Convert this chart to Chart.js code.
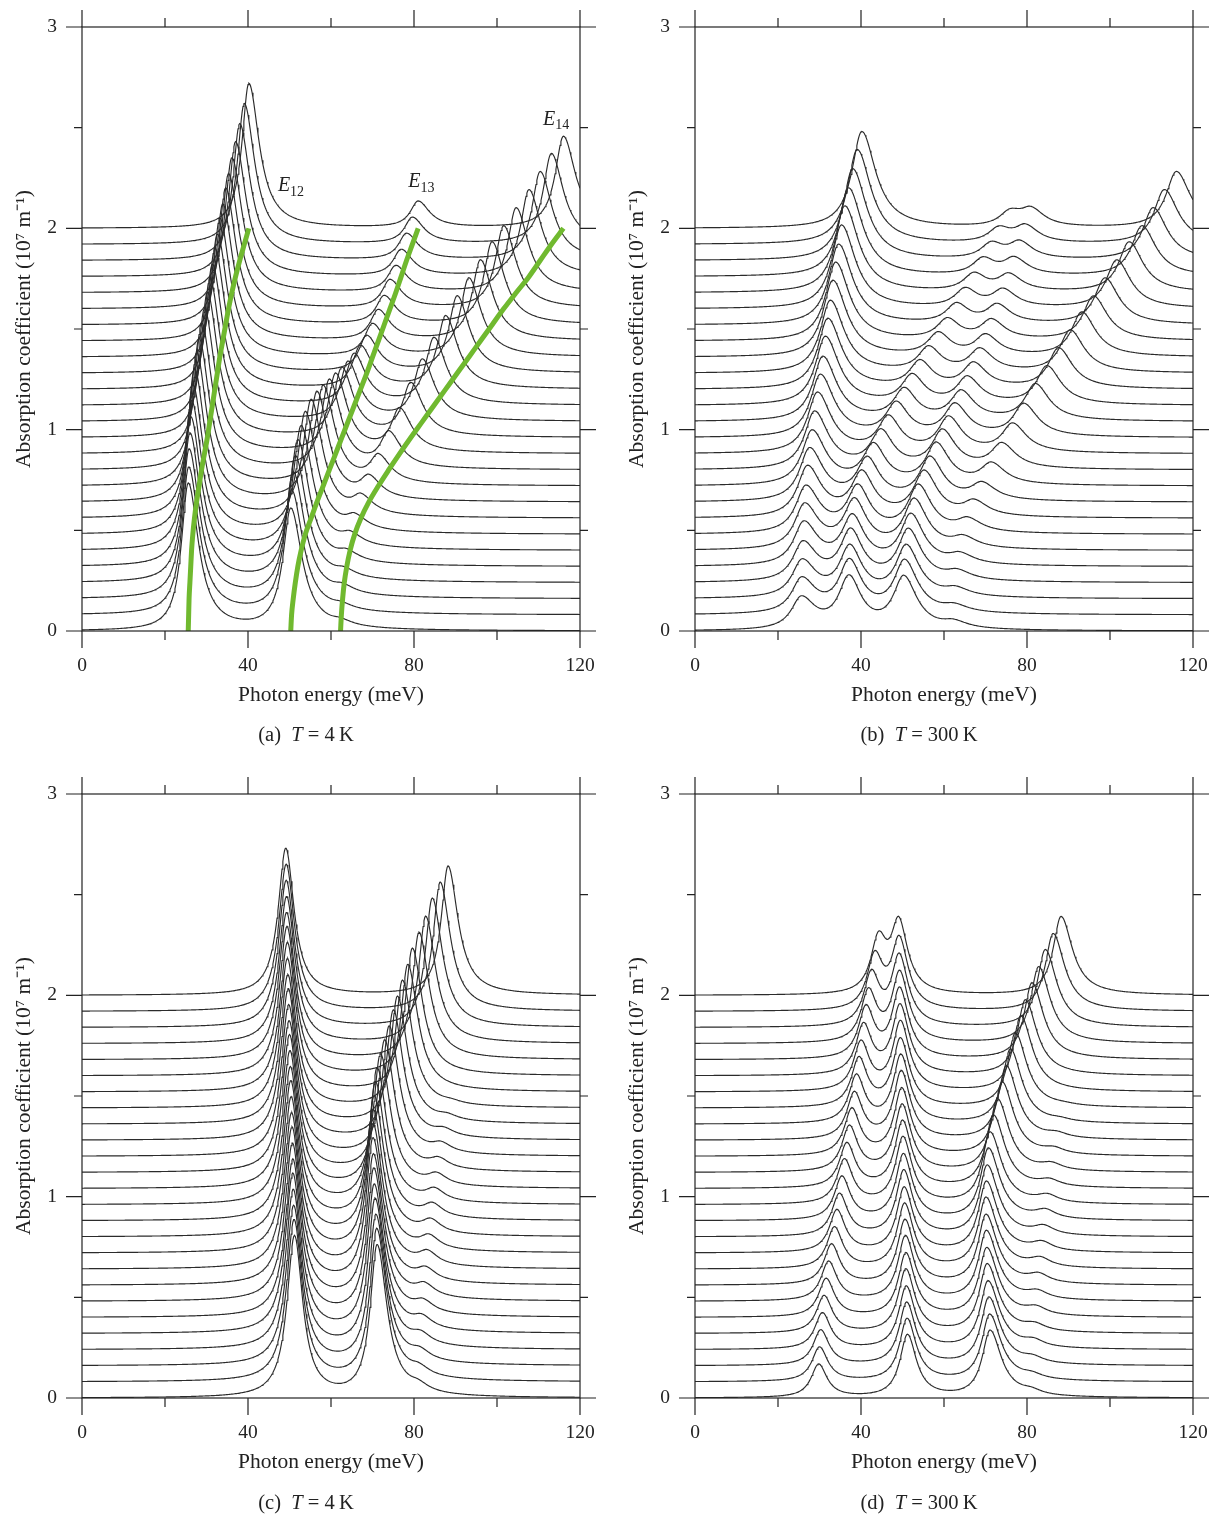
<!DOCTYPE html>
<html>
<head>
<meta charset="utf-8">
<script src="https://cdn.jsdelivr.net/npm/chart.js@4.4.1/dist/chart.umd.min.js"></script>
<style>
  body { margin: 0; background: #fff; }
  #page { position: relative; width: 1219px; height: 1516px; overflow: hidden; }
  canvas { position: absolute; }
  .cap { position: absolute; width: 612px; text-align: center; font-family: "Liberation Serif", serif; font-size: 20.5px; color: #222; }
</style>
</head>
<body>
<div id="page">
  <canvas id="pa" width="609" height="760" style="left:0;top:0"></canvas>
  <canvas id="pb" width="606" height="760" style="left:613px;top:0"></canvas>
  <canvas id="pc" width="609" height="749" style="left:0;top:767px"></canvas>
  <canvas id="pd" width="606" height="749" style="left:613px;top:767px"></canvas>
  <div class="cap" style="left:0;top:723px">(a)&nbsp; <i>T</i> = 4&#8201;K</div>
  <div class="cap" style="left:613px;top:723px">(b)&nbsp; <i>T</i> = 300&#8201;K</div>
  <div class="cap" style="left:0;top:1491px">(c)&nbsp; <i>T</i> = 4&#8201;K</div>
  <div class="cap" style="left:613px;top:1491px">(d)&nbsp; <i>T</i> = 300&#8201;K</div>
</div>
<script>
// baseline offset of each of the 26 stacked spectra
var offsets = [0,0.08,0.16,0.24,0.32,0.40,0.48,0.56,0.64,0.72,0.80,0.88,0.96,1.04,1.12,1.20,1.28,1.36,1.44,1.52,1.60,1.68,1.76,1.84,1.92,2.00];

// peak energies (meV) per spectrum, panels (a) and (b)
var posE12 = [25.6,25.7,25.8,26.0,26.2,26.4,26.7,27.1,27.6,28.2,28.8,29.5,30.2,30.8,31.4,32.0,32.6,33.2,33.9,34.6,35.3,36.1,37.0,38.0,39.1,40.2];
var posE13 = [50.3,50.5,50.9,51.4,52.0,52.8,53.8,55.2,56.6,58.1,59.6,61.1,62.6,64.1,65.6,67.1,68.6,70.0,71.4,72.8,74.2,75.6,76.9,78.2,79.6,81.0];
var posE14 = [62.3,62.5,62.8,63.2,63.8,64.6,65.7,67.2,69.1,71.4,73.9,76.5,79.2,82.0,84.8,87.6,90.4,93.2,96.0,98.8,101.6,104.6,107.7,110.4,113.1,116.0];
var posE24 = [37.1,37.2,37.3,37.5,37.9,38.4,39.2,40.2,41.5,43.0,44.8,46.6,48.5,50.4,52.3,54.2,56.3,58.6,60.8,63.0,65.1,67.2,69.4,71.4,73.2,75.9];

// peak heights, panel (a) T = 4 K
var ampA12 = [0.73,0.73,0.74,0.74,0.74,0.74,0.74,0.74,0.74,0.73,0.73,0.72,0.72,0.71,0.70,0.70,0.69,0.69,0.68,0.68,0.67,0.67,0.67,0.68,0.70,0.72];
var ampA13 = [0.60,0.61,0.62,0.62,0.62,0.61,0.60,0.58,0.54,0.49,0.44,0.39,0.34,0.29,0.25,0.21,0.18,0.16,0.15,0.14,0.14,0.13,0.13,0.13,0.13,0.13];
var ampA14 = [0.02,0.02,0.03,0.03,0.04,0.05,0.06,0.08,0.10,0.13,0.17,0.21,0.26,0.30,0.33,0.36,0.38,0.39,0.40,0.41,0.41,0.42,0.43,0.44,0.45,0.455];

// peak heights, panel (b) T = 300 K
var ampB12 = [0.155,0.17,0.18,0.19,0.21,0.22,0.23,0.25,0.26,0.27,0.285,0.30,0.31,0.32,0.34,0.35,0.36,0.38,0.39,0.40,0.415,0.43,0.44,0.455,0.47,0.48];
var ampB24 = [0.25,0.25,0.24,0.24,0.23,0.23,0.22,0.21,0.20,0.19,0.18,0.17,0.16,0.15,0.14,0.13,0.12,0.11,0.10,0.095,0.09,0.085,0.08,0.075,0.07,0.07];
var ampB13 = [0.255,0.255,0.25,0.25,0.245,0.24,0.23,0.22,0.21,0.20,0.185,0.17,0.155,0.14,0.13,0.12,0.11,0.10,0.095,0.09,0.085,0.08,0.08,0.08,0.08,0.08];
var ampB14 = [0.03,0.03,0.035,0.04,0.045,0.05,0.06,0.07,0.08,0.10,0.12,0.14,0.16,0.18,0.19,0.20,0.21,0.22,0.22,0.23,0.24,0.25,0.25,0.26,0.27,0.28];

// peak energies (meV) per spectrum, panels (c) and (d)
var posP1 = [51.2,51.1,51.0,50.9,50.8,50.8,50.7,50.6,50.5,50.4,50.3,50.2,50.1,50.0,49.9,49.8,49.7,49.6,49.5,49.5,49.4,49.3,49.3,49.2,49.2,49.1];
var posP2 = [71.1,71.0,70.8,70.6,70.4,70.3,70.2,70.1,70.1,70.2,70.4,70.7,71.1,71.9,72.9,74.0,75.0,76.0,77.2,78.5,79.6,81.2,82.8,84.4,86.3,88.2];
var posS  = [81.0,81.2,81.4,81.6,81.9,82.2,82.5,82.8,83.2,83.6,84.0,84.4,84.9,85.4,85.9,86.5,87.2,88.0,89.0,90.0,91.0,92.0,93.0,94.0,95.0,96.0];
var posQ1 = [29.8,30.0,30.3,30.7,31.1,31.6,32.2,32.9,33.6,34.2,34.8,35.4,36.0,36.6,37.2,37.8,38.4,38.9,39.5,40.0,40.6,41.2,41.8,42.5,43.3,44.2];

// peak heights, panel (c) T = 4 K
var ampC1 = [0.80,0.80,0.79,0.79,0.79,0.78,0.78,0.78,0.77,0.77,0.77,0.76,0.76,0.76,0.75,0.75,0.75,0.74,0.74,0.74,0.74,0.73,0.73,0.73,0.73,0.73];
var ampC2 = [0.75,0.75,0.74,0.74,0.73,0.73,0.72,0.72,0.71,0.70,0.69,0.68,0.67,0.66,0.65,0.64,0.64,0.63,0.63,0.63,0.63,0.63,0.63,0.64,0.64,0.64];
var ampCS = [0.03,0.035,0.04,0.045,0.05,0.05,0.055,0.055,0.06,0.06,0.06,0.06,0.055,0.05,0.045,0.04,0.03,0.02,0.01,0,0,0,0,0,0,0];

// peak heights, panel (d) T = 300 K
var ampDQ = [0.165,0.17,0.175,0.18,0.185,0.19,0.195,0.20,0.205,0.21,0.21,0.215,0.22,0.22,0.225,0.23,0.23,0.235,0.24,0.24,0.245,0.25,0.25,0.255,0.26,0.26];
var ampD1 = [0.31,0.31,0.31,0.31,0.315,0.315,0.32,0.32,0.32,0.32,0.325,0.325,0.33,0.33,0.33,0.33,0.335,0.335,0.335,0.34,0.34,0.34,0.34,0.34,0.34,0.34];
var ampD2 = [0.33,0.33,0.335,0.335,0.34,0.34,0.345,0.345,0.35,0.35,0.35,0.355,0.355,0.36,0.36,0.365,0.365,0.37,0.37,0.375,0.375,0.38,0.38,0.385,0.385,0.39];
var ampDS = [0.02,0.02,0.025,0.03,0.03,0.035,0.035,0.04,0.04,0.04,0.04,0.04,0.035,0.03,0.03,0.025,0.02,0.01,0.005,0,0,0,0,0,0,0];

// axis ticks
var xTicks = [0,20,40,60,80,100,120];
var yTicks = [0,0.5,1,1.5,2,2.5,3];

var serif = '"Liberation Serif", "Times New Roman", serif';
var ink = '#222';

// line shape: half widths (meV) on the low / high energy side
function peaks(pos, amp, wl, wr) { return {pos: pos, amp: amp, wl: wl, wr: wr}; }

function spectra(families) {
  var sets = [];
  for (var i = 0; i < offsets.length; i++) {
    var pts = [];
    for (var k = 0; k <= 600; k++) {
      var e = k * 0.2;
      var v = offsets[i];
      families.forEach(function (f) {
        var d = (e - f.pos[i]) / (e < f.pos[i] ? f.wl : f.wr);
        v += f.amp[i] / (1 + d * d);
      });
      pts.push({x: e, y: v});
    }
    sets.push({data: pts, borderColor: '#2b2b2b', borderWidth: 1.15, pointRadius: 0, fill: false, order: 1});
  }
  return sets;
}

function greenLine(pos) {
  var pts = pos.map(function (p, i) { return {x: p, y: offsets[i]}; });
  return {data: pts, borderColor: '#70b92f', borderWidth: 5, pointRadius: 0, fill: false, order: 0, cubicInterpolationMode: 'monotone'};
}

var frame = {
  id: 'frame',
  afterDraw: function (chart) {
    var ctx = chart.ctx, a = chart.chartArea, x = chart.scales.x, y = chart.scales.y;
    ctx.save();
    ctx.strokeStyle = ink;
    ctx.lineWidth = 1.2;
    ctx.strokeRect(a.left, a.top, a.right - a.left, a.bottom - a.top);
    ctx.beginPath();
    xTicks.forEach(function (v) {
      var px = x.getPixelForValue(v), len = v % 40 === 0 ? 17 : 9;
      ctx.moveTo(px, a.bottom); ctx.lineTo(px, a.bottom + len);
      ctx.moveTo(px, a.top); ctx.lineTo(px, a.top - len);
    });
    yTicks.forEach(function (v) {
      var py = y.getPixelForValue(v), len = v % 1 === 0 ? 16 : 8;
      ctx.moveTo(a.left, py); ctx.lineTo(a.left - len, py);
      ctx.moveTo(a.right, py); ctx.lineTo(a.right + len, py);
    });
    ctx.stroke();
    // level labels (panel a only)
    (chart.options.plugins.frame.labels || []).forEach(function (l) {
      var px = x.getPixelForValue(l.x), py = y.getPixelForValue(l.y);
      ctx.fillStyle = ink;
      ctx.textBaseline = 'middle';
      ctx.textAlign = 'left';
      ctx.font = 'italic 20px ' + serif;
      ctx.fillText('E', px, py);
      var w = ctx.measureText('E').width;
      ctx.font = '14px ' + serif;
      ctx.fillText(l.sub, px + w, py + 6);
    });
    ctx.restore();
  }
};

// invisible tick marks push the labels away from the axis without
// inflating the label overflow padding of the layout
var hiddenGrid = function (len) {
  return {display: true, drawOnChartArea: false, drawTicks: true, tickLength: len, tickColor: 'rgba(0,0,0,0)'};
};

function makeChart(id, datasets, canvasW, canvasH, labels) {
  return new Chart(document.getElementById(id), {
    type: 'line',
    data: {datasets: datasets},
    plugins: [frame],
    options: {
      responsive: false,
      animation: false,
      parsing: false,
      normalized: true,
      layout: {padding: {left: 0, top: 27, right: canvasW - 580, bottom: canvasH - 631 - 100}},
      plugins: {legend: {display: false}, tooltip: {enabled: false}, frame: {labels: labels}},
      elements: {line: {tension: 0}},
      scales: {
        x: {
          type: 'linear', min: 0, max: 120,
          ticks: {stepSize: 40, font: {family: serif, size: 19.5}, color: ink, padding: 1, maxRotation: 0},
          grid: hiddenGrid(22),
          border: {display: false},
          title: {display: true, text: 'Photon energy (meV)', font: {family: serif, size: 21.5}, color: ink, padding: {top: 0, bottom: 23}},
          afterFit: function (s) { s.height = 100; }
        },
        y: {
          type: 'linear', min: 0, max: 3,
          ticks: {stepSize: 1, font: {family: serif, size: 19.5}, color: ink, padding: 1},
          grid: hiddenGrid(24),
          border: {display: false},
          title: {display: true, text: 'Absorption coefficient (10\u2077 m\u207B\u00B9)', font: {family: serif, size: 21.5}, color: ink, padding: {top: 11, bottom: 0}},
          afterFit: function (s) { s.width = 82; }
        }
      }
    }
  });
}

var setsA = spectra([
  peaks(posE12, ampA12, 2.0, 3.0),
  peaks(posE13, ampA13, 2.3, 3.3),
  peaks(posE14, ampA14, 2.4, 3.5)
]);
setsA.push(greenLine(posE12), greenLine(posE13), greenLine(posE14));
makeChart('pa', setsA, 609, 760, [
  {sub: '12', x: 47.2, y: 2.21},
  {sub: '13', x: 78.6, y: 2.23},
  {sub: '14', x: 111.1, y: 2.54}
]);

makeChart('pb', spectra([
  peaks(posE12, ampB12, 2.9, 4.0),
  peaks(posE24, ampB24, 3.0, 3.5),
  peaks(posE13, ampB13, 3.0, 3.8),
  peaks(posE14, ampB14, 3.0, 4.0)
]), 606, 760, []);

makeChart('pc', spectra([
  peaks(posP1, ampC1, 2.2, 2.4),
  peaks(posP2, ampC2, 2.0, 2.9),
  peaks(posS, ampCS, 2.5, 3.0)
]), 609, 749, []);

makeChart('pd', spectra([
  peaks(posQ1, ampDQ, 2.2, 2.4),
  peaks(posP1, ampD1, 2.2, 2.6),
  peaks(posP2, ampD2, 2.3, 3.3),
  peaks(posS, ampDS, 3.0, 3.0)
]), 606, 749, []);
</script>
</body>
</html>
